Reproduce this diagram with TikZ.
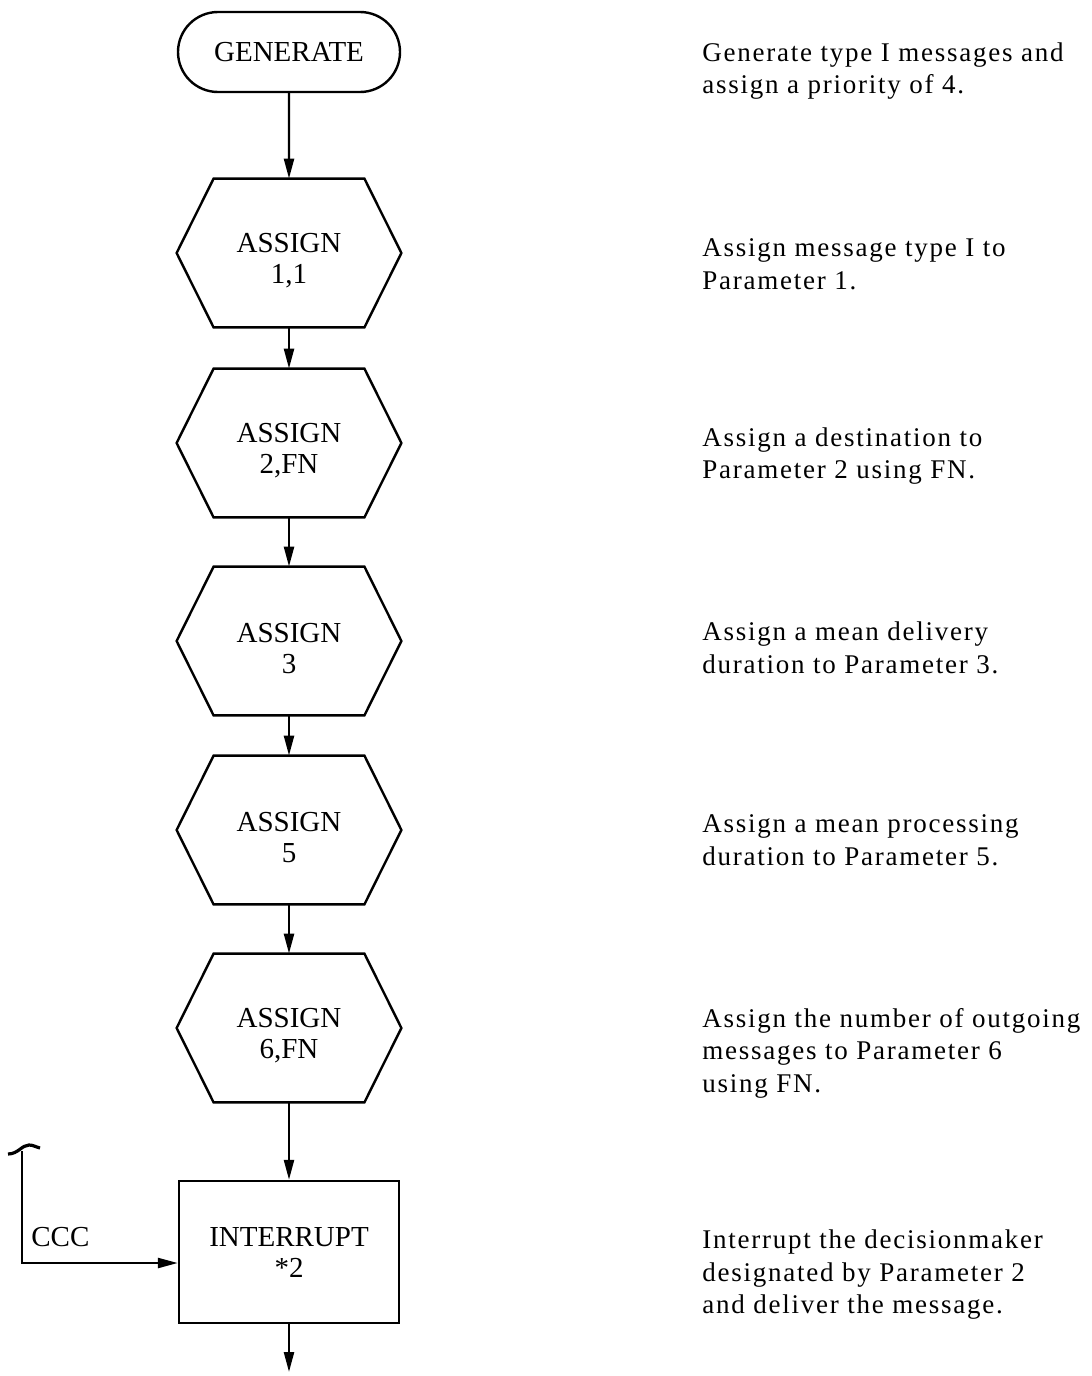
\documentclass[tikz,border=0pt]{standalone}
\usepackage{fontspec}
\setmainfont{Liberation Serif}
\newfontfamily\notefont[LetterSpace=6.5]{Liberation Serif}
\usetikzlibrary{shapes.misc,arrows.meta}
\newcommand\hexstrut{\rule{0pt}{17pt}}

\begin{document}
\begin{tikzpicture}[x=0.5pt,y=-0.5pt,
  every node/.style={font=\fontsize{14.5}{15.5}\selectfont},
  line/.style={line width=1.2pt},
  flow/.style={line, -{Triangle[length=10pt,width=5pt]}},
  term/.style={draw, line, rounded rectangle, minimum width=111pt,
    minimum height=40pt, inner sep=0pt},
  hexbox/.style={minimum width=112pt, minimum height=74pt, inner sep=0pt,
    align=center},
  procbox/.style={draw, line, minimum width=110pt, minimum height=71pt,
    inner sep=0pt, align=center},
  note/.style={anchor=west, align=left, inner sep=0pt,
    font=\notefont\fontsize{13.5}{16.25}\selectfont},
]
\useasboundingbox (0,0) rectangle (1092,1376);

% flowchart column
\node[term]    (gen) at (289,52)   {GENERATE};
\node[hexbox]  (a1)  at (289,253)  {\hexstrut ASSIGN\\1,1};
\node[hexbox]  (a2)  at (289,443)  {\hexstrut ASSIGN\\2,FN};
\node[hexbox]  (a3)  at (289,641)  {\hexstrut ASSIGN\\3};
\node[hexbox]  (a4)  at (289,830)  {\hexstrut ASSIGN\\5};
\node[hexbox]  (a5)  at (289,1028) {\hexstrut ASSIGN\\6,FN};
\node[procbox] (intr) at (289,1252) {INTERRUPT\\*2};

% hexagon outlines for the ASSIGN blocks
\foreach \n in {a1,a2,a3,a4,a5}
  \draw[line] (\n.west) -- ([xshift=18.5pt]\n.north west)
    -- ([xshift=-18.5pt]\n.north east) -- (\n.east)
    -- ([xshift=-18.5pt]\n.south east) -- ([xshift=18.5pt]\n.south west)
    -- cycle;

% main flow
\draw[flow] (gen) -- (a1);
\draw[flow] (a1) -- (a2);
\draw[flow] (a2) -- (a3);
\draw[flow] (a3) -- (a4);
\draw[flow] (a4) -- (a5);
\draw[flow] (a5) -- (intr);
\coordinate (out) at (289,1372);
\draw[flow] (intr) -- (out);

% incoming CCC connector with break mark
\coordinate (ccctop) at (22,1151);
\coordinate (hookl) at (8,1154);
\coordinate (hookr) at (40,1148);
\draw[line, line width=1.6pt] (hookl) .. controls (18,1154) and (22,1145) .. (29,1145)
  .. controls (33,1145) and (36,1147) .. (hookr);
\draw[flow] (ccctop) |- ([yshift=-5.5pt]intr.west);
\node[anchor=west, inner sep=0pt] (ccc) at (31,1237) {CCC};

% descriptions
\node[note] (n1) at (702,71)   {Generate type I messages and\\assign a priority of 4.};
\node[note] (n2) at (702,264)  {Assign message type I to\\Parameter 1.};
\node[note] (n3) at (702,456)  {Assign a destination to\\Parameter 2 using FN.};
\node[note] (n4) at (702,648)  {Assign a mean delivery\\duration to Parameter 3.};
\node[note] (n5) at (702,840)  {Assign a mean processing\\duration to Parameter 5.};
\node[note] (n6) at (702,1053) {Assign the number of outgoing\\messages to Parameter 6\\using FN.};
\node[note] (n7) at (702,1275) {Interrupt the decisionmaker\\designated by Parameter 2\\and deliver the message.};
\end{tikzpicture}
\end{document}
